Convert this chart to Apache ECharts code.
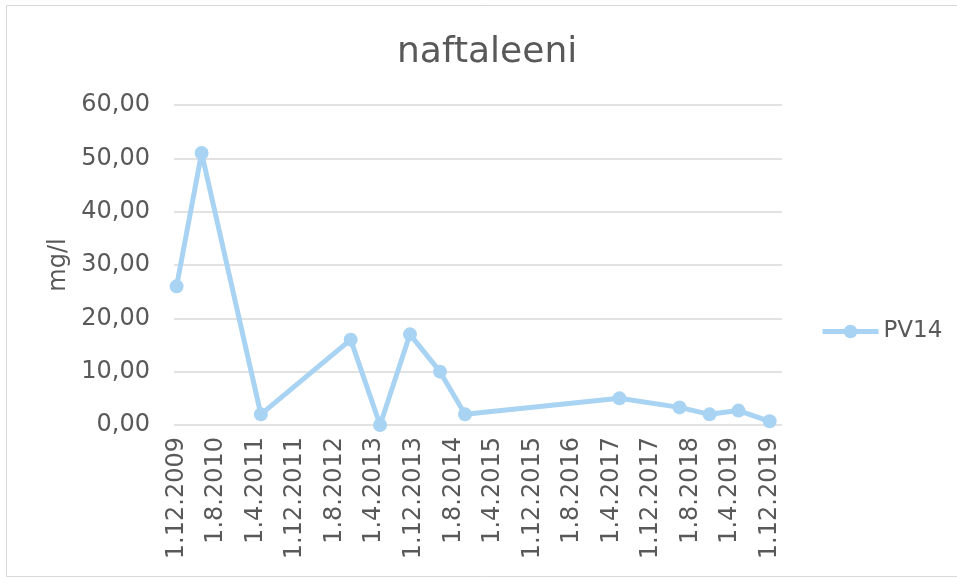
<!DOCTYPE html>
<html>
<head>
<meta charset="utf-8">
<script src="https://cdn.jsdelivr.net/npm/echarts@6/dist/echarts.min.js"></script>
<style>
  html, body { margin: 0; padding: 0; background: #ffffff; }
  #chart { width: 957px; height: 579px; }
</style>
</head>
<body>
<div id="chart"></div>
<script>
// Sampling dates (d.m.yyyy) and measured naphthalene concentrations, mg/l
const sampleDates = ['1.12.2009', '4.5.2010', '4.5.2011', '7.11.2012', '7.5.2013', '7.11.2013',
  '11.5.2014', '12.10.2014', '20.5.2017', '25.5.2018', '26.11.2018', '23.5.2019', '1.12.2019'];
const pv14 = [26, 51, 2, 16, 0, 17, 10, 2, 5, 3.3, 2, 2.7, 0.7];

// Date axis labels, every 8 months
const tickLabels = ['1.12.2009', '1.8.2010', '1.4.2011', '1.12.2011', '1.8.2012', '1.4.2013',
  '1.12.2013', '1.8.2014', '1.4.2015', '1.12.2015', '1.8.2016', '1.4.2017', '1.12.2017',
  '1.8.2018', '1.4.2019', '1.12.2019'];

const yTicks = [0, 10, 20, 30, 40, 50, 60];

function parseFi(s) {
  const [d, m, y] = s.split('.').map(Number);
  return new Date(y, m - 1, d).getTime();
}
function formatFi(t) {
  const d = new Date(t);
  return d.getDate() + '.' + (d.getMonth() + 1) + '.' + d.getFullYear();
}

const tickTimes = tickLabels.map(parseFi);
const seriesData = sampleDates.map((s, i) => [parseFi(s), pv14[i]]);

const FONT = 'DejaVu Sans';
const TEXT = '#595959';
const LINE = '#a9d3f3';

const chart = echarts.init(document.getElementById('chart'), null, { renderer: 'canvas' });
chart.setOption({
  backgroundColor: '#ffffff',
  animation: false,
  title: {
    text: 'naftaleeni',
    left: 392,
    top: 30,
    textStyle: { fontFamily: FONT, fontSize: 36, fontWeight: 'normal', color: TEXT }
  },
  legend: {
    left: 820,
    top: 320,
    padding: 0,
    itemWidth: 56,
    itemHeight: 17,
    itemGap: 4,
    lineStyle: { width: 5 },
    textStyle: { fontFamily: FONT, fontSize: 23, color: TEXT },
    data: ['PV14']
  },
  grid: { left: 174, right: 175, top: 105, bottom: 154 },
  xAxis: {
    type: 'value',
    min: parseFi('15.11.2009'),
    max: parseFi('15.2.2020'),
    axisLine: { show: false },
    axisTick: { show: false, customValues: tickTimes },
    splitLine: { show: false },
    axisLabel: {
      customValues: tickTimes,
      rotate: 90,
      margin: 12,
      fontFamily: FONT,
      fontSize: 24,
      color: TEXT,
      formatter: v => formatFi(v),
      showMinLabel: true,
      showMaxLabel: true
    }
  },
  yAxis: {
    type: 'value',
    min: yTicks[0],
    max: yTicks[yTicks.length - 1],
    interval: 10,
    name: 'mg/l',
    nameLocation: 'middle',
    nameRotate: 90,
    nameGap: 103,
    nameTextStyle: { fontFamily: FONT, fontSize: 24, color: TEXT },
    axisLine: { show: false },
    axisTick: { show: false },
    splitLine: { lineStyle: { color: '#d9d9d9', width: 1.5 } },
    axisLabel: {
      margin: 24,
      fontFamily: FONT,
      fontSize: 24,
      color: TEXT,
      formatter: v => v.toFixed(2).replace('.', ',')
    }
  },
  graphic: [{
    type: 'rect',
    shape: { x: 6.5, y: 5.5, width: 980, height: 571 },
    style: { fill: 'none', stroke: '#d9d9d9', lineWidth: 1 },
    silent: true
  }],
  series: [{
    name: 'PV14',
    type: 'line',
    data: seriesData,
    symbol: 'circle',
    symbolSize: 14,
    lineStyle: { color: LINE, width: 5 },
    itemStyle: { color: LINE },
    emphasis: { disabled: true }
  }]
});
</script>
</body>
</html>
